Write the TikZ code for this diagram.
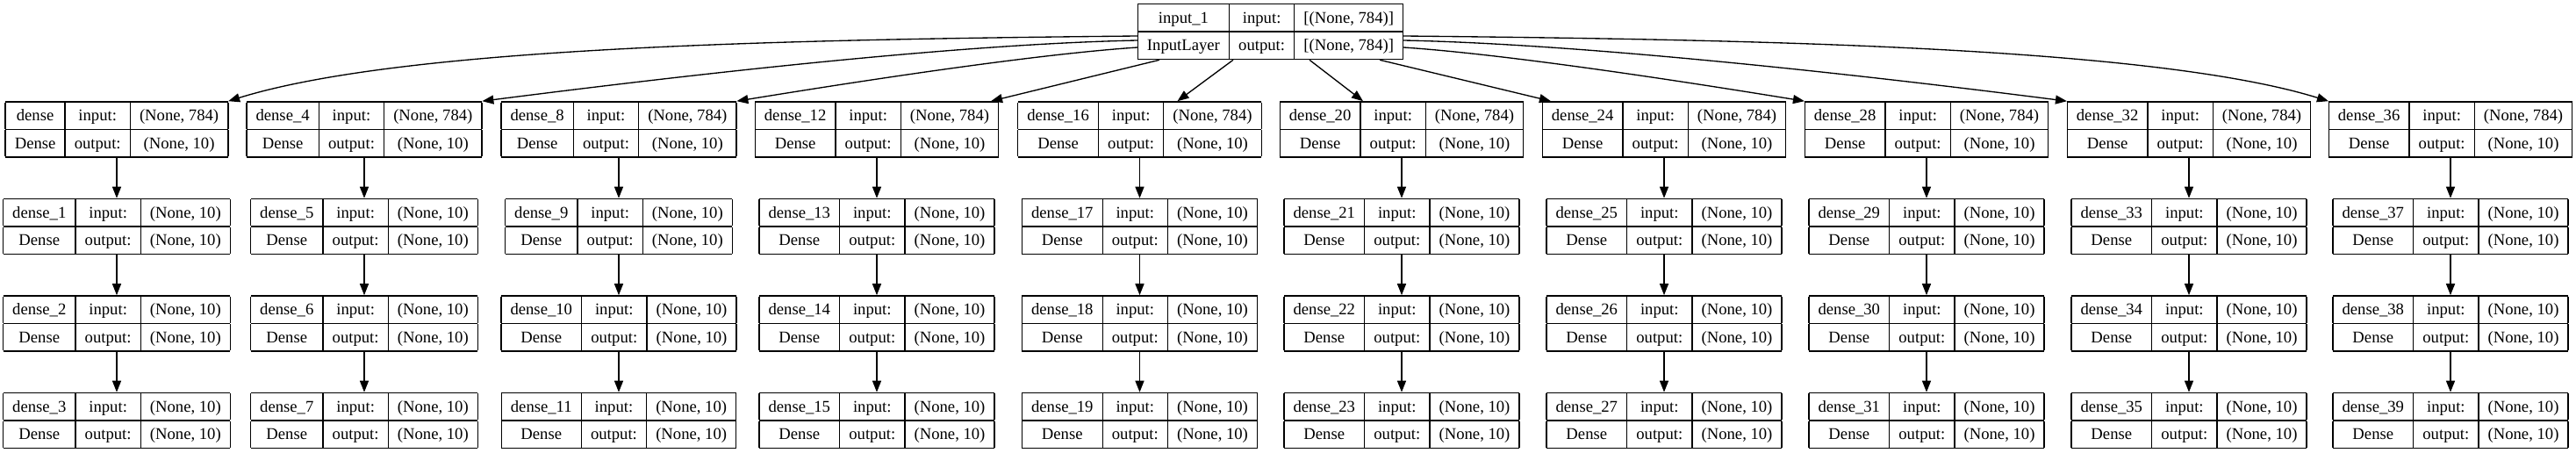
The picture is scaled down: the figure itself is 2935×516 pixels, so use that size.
\documentclass[tikz,border=0pt]{standalone}
\usepackage{fontspec}
\setmainfont{Liberation Serif}
\usetikzlibrary{arrows.meta,calc}
\setlength{\tabcolsep}{8pt}
\setlength{\arrayrulewidth}{1pt}
\renewcommand{\arraystretch}{1.34}
\newcommand{\layertab}[4]{%
\begin{tabular}{|c|c|c|}\hline
#1 & input: & #3\\\hline
#2 & output: & #4\\\hline
\end{tabular}}
\tikzset{
  layer/.style={inner sep=0pt, font=\fontsize{14}{16.8}\selectfont},
  flow/.style={line width=1pt, -{Triangle[length=9.75pt,width=7.5pt]}}
}

\begin{document}
\begin{tikzpicture}[x=0.75pt, y=-0.75pt]
\path[use as bounding box, fill=white] (0,0) rectangle (2935,516);
\node[layer] (inp) at (1447.5,36) {\layertab{input\_1}{InputLayer}{[(None, 784)]}{[(None, 784)]}};
\foreach \x [count=\c from 0] in {133,415,705,999,1298.5,1597,1896,2195,2494,2792}
  \foreach \y [count=\r from 0] in {147.5,258,368.5,479} {
    \pgfmathtruncatemacro{\k}{4*\c+\r}
    \ifnum\k=0 \def\lname{dense}\else\edef\lname{dense\noexpand\_\k}\fi
    \ifnum\r=0 \def\lin{(None, 784)}\else\def\lin{(None, 10)}\fi
    \node[layer] (d\k) at (\x,\y) {\layertab{\lname}{Dense}{\lin}{(None, 10)}};
  }
\foreach \k in {0,...,38} {
  \pgfmathtruncatemacro{\r}{mod(\k,4)}
  \ifnum\r<3 \pgfmathtruncatemacro{\n}{\k+1}\draw[flow] (d\k.south) -- (d\n.north);\fi
}
\draw[flow] ($(inp.west)+(0,5)$) .. controls +(-398,4) and +(200,-62) .. (d0.north east);
\draw[flow] ($(inp.west)+(0,10)$) .. controls +(-200,4) and +(250,-32) .. (d4.north east);
\draw[flow] ($(inp.west)+(0,18)$) .. controls +(-120,8) and +(135,-22) .. (d8.north east);
\draw[flow] ($(inp.south west)+(25,0)$) -- ($(d12.north east)+(-9,0)$);
\draw[flow] ($(inp.south west)+(109,0)$) -- ($(d16.north)+(43,0)$);
\draw[flow] ($(inp.south east)+(-107,0)$) -- ($(d20.north)+(-44,0)$);
\draw[flow] ($(inp.south east)+(-27,0)$) -- ($(d24.north west)+(10,0)$);
\draw[flow] ($(inp.east)+(0,18)$) .. controls +(120,8) and +(-135,-22) .. (d28.north west);
\draw[flow] ($(inp.east)+(0,10)$) .. controls +(200,4) and +(-250,-32) .. (d32.north west);
\draw[flow] ($(inp.east)+(0,5)$) .. controls +(398,4) and +(-200,-62) .. (d36.north west);
\end{tikzpicture}
\end{document}
